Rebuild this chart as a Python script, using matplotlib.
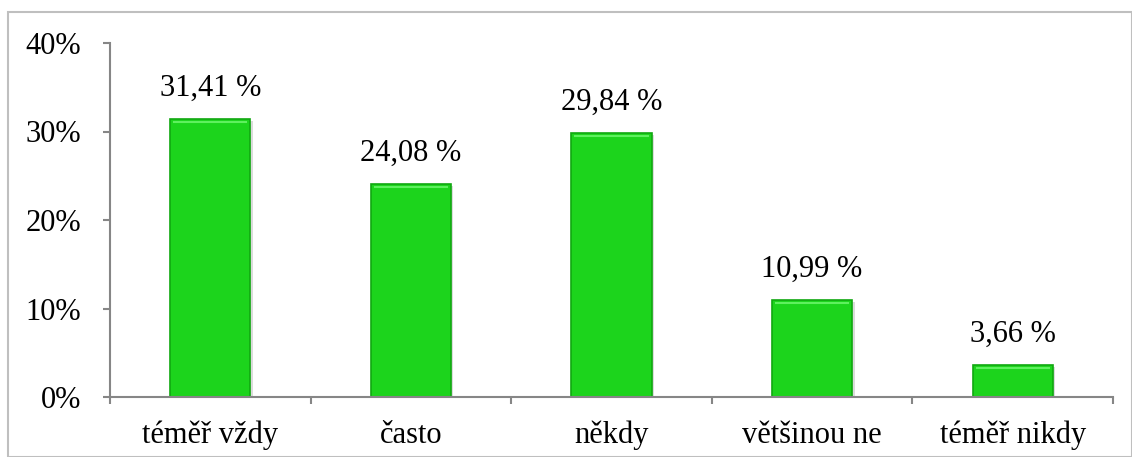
import matplotlib.pyplot as plt
from matplotlib.patches import Rectangle

categories = ['téměř vždy', 'často', 'někdy', 'většinou ne', 'téměř nikdy']
values = [31.41, 24.08, 29.84, 10.99, 3.66]
yticks = [0, 10, 20, 30, 40]

plt.rcParams['font.family'] = ['Liberation Serif', 'DejaVu Serif']

fig = plt.figure(figsize=(11.32, 4.57), dpi=100)
ax = fig.add_axes([110 / 1132, 1 - 397 / 457, (1113 - 110) / 1132, (397 - 43) / 457])

# outer frame of the chart area
fig.patches.append(Rectangle((8 / 1132, 0.5 / 457), 1 - 8.5 / 1132, 1 - 12.5 / 457,
                             transform=fig.transFigure, fill=False,
                             edgecolor='#bfbfbf', linewidth=1.5))

x = list(range(len(categories)))
# soft shadow then the bar itself
ax.bar([i + 0.012 for i in x], values, width=0.4, color='#9a9a9a', alpha=0.35, zorder=1,
       bottom=-0.25)
bars = ax.bar(x, values, width=0.4, color='#1cd41c', edgecolor='#11a811', linewidth=1.2, zorder=2)
# light bevel line on top of every bar
for b in bars:
    ax.plot([b.get_x() + 0.02, b.get_x() + b.get_width() - 0.02],
            [b.get_height() - 0.35] * 2, color='#5ef05e', linewidth=1.5, zorder=3)

for i, v in enumerate(values):
    ax.text(i, v + 1.8, ('%.2f %%' % v).replace('.', ','), ha='center', va='bottom', fontsize=22)

ax.set_xlim(-0.5, len(categories) - 0.5)
ax.set_ylim(0, 40)
ax.set_yticks(yticks)
ax.set_yticklabels(['%d%%' % t for t in yticks], fontsize=22)
ax.set_xticks(x)
ax.set_xticklabels(categories, fontsize=22)
ax.tick_params(axis='x', length=0, pad=17)
ax.set_xticks([i + 0.5 for i in [-1] + x], minor=True)
ax.tick_params(axis='x', which='minor', length=5, color='#868686', width=1.5)
ax.tick_params(axis='y', length=5, color='#868686', width=1.5, pad=16)

for s in ['top', 'right']:
    ax.spines[s].set_visible(False)
for s in ['left', 'bottom']:
    ax.spines[s].set_color('#868686')
    ax.spines[s].set_linewidth(1.5)

fig.savefig('out.png', dpi=100)
